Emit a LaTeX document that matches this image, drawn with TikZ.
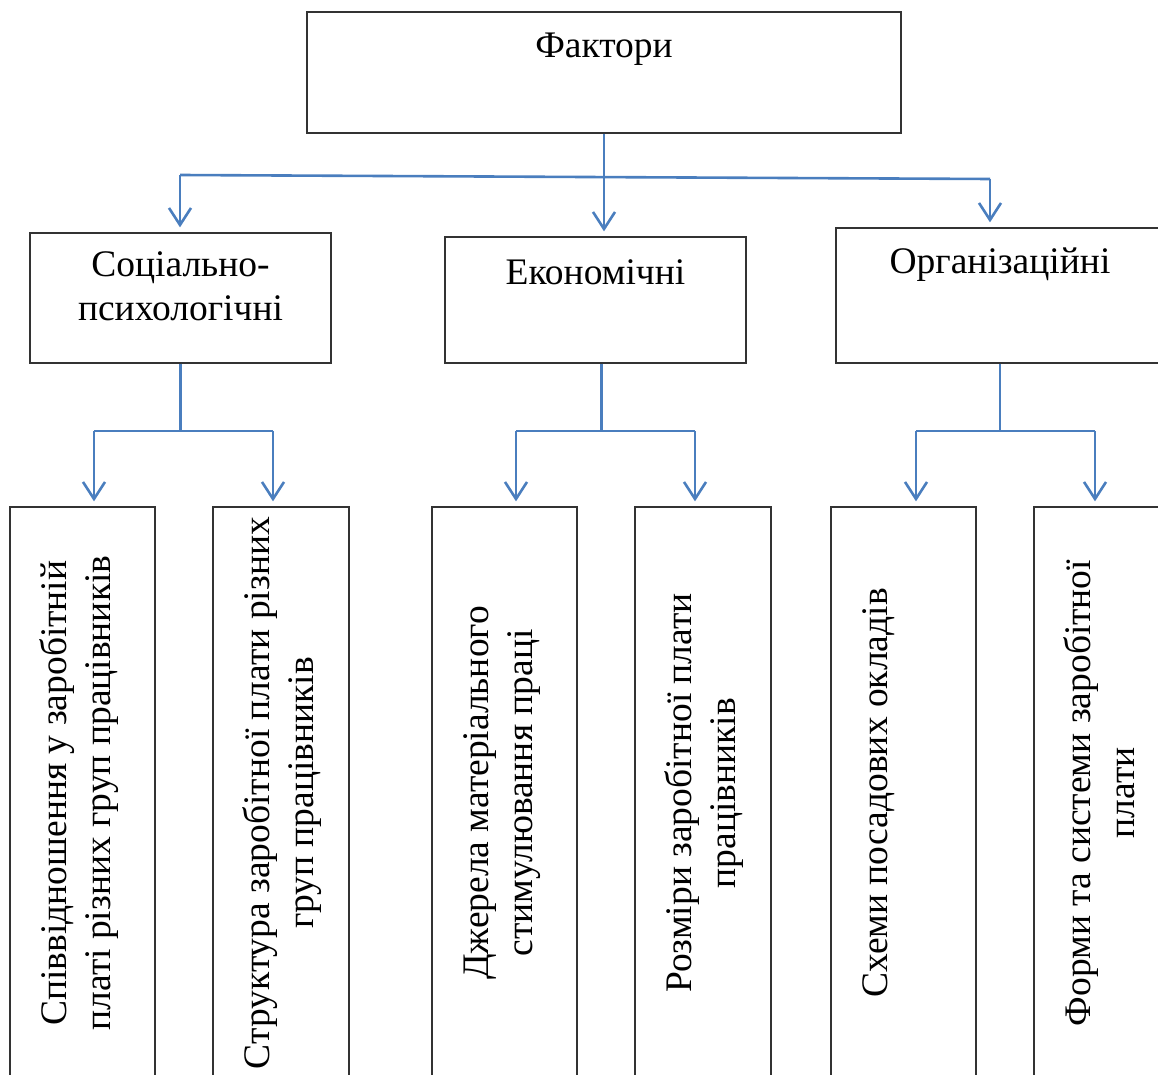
\documentclass[tikz,border=0pt]{standalone}
\usepackage{fontspec}
\setmainfont{Liberation Serif}
\usetikzlibrary{arrows.meta}
\definecolor{lineblue}{RGB}{74,126,190}
\newcommand{\boxtext}[4]{\parbox[c][#2][t]{#1}{\centering\rule{0pt}{#3}#4}}

\begin{document}
\begin{tikzpicture}[x=1pt,y=-1pt,
    box/.style={draw=black!80,line width=1.3pt,inner sep=0pt,font=\fontsize{37.5}{44}\selectfont},
    vbox/.style={box,rotate=90},
    link/.style={draw=lineblue,line width=2.6pt},
    arr/.style={link,-{Straight Barb[length=17pt,width=22pt]},shorten >=5pt}]
  \useasboundingbox (0,0) rectangle (1158,1075);
  \clip (0,0) rectangle (1158,1075);
  % top level
  \node[box] (fak) at (604,72.5) {\boxtext{594pt}{121pt}{46pt}{Фактори}};
  \node[box] (soc) at (180.5,298) {\boxtext{301pt}{130pt}{43pt}{Соціально-\\психологічні}};
  \node[box] (econ) at (595.5,300) {\boxtext{301pt}{126pt}{47pt}{Економічні}};
  \node[box] (org) at (1000,295.5) {\boxtext{328pt}{135pt}{45pt}{Організаційні}};
  % bottom boxes, text turned
  \node[vbox] (b1) at (82.5,793) {\boxtext{572pt}{145pt}{56pt}{Співвідношення у заробітній\\платі різних груп працівників}};
  \node[vbox] (b2) at (281,793) {\boxtext{572pt}{136pt}{56pt}{Структура заробітної плати різних\\груп працівників}};
  \node[vbox] (b3) at (504.5,793) {\boxtext{572pt}{145pt}{56pt}{Джерела матеріального\\стимулювання праці}};
  \node[vbox] (b4) at (703,793) {\boxtext{572pt}{136pt}{56pt}{Розміри заробітної плати\\працівників}};
  \node[vbox] (b5) at (903.5,793) {\boxtext{572pt}{145pt}{56pt}{Схеми посадових окладів}};
  \node[vbox] (b6) at (1102,793) {\boxtext{572pt}{136pt}{56pt}{Форми та системи заробітної\\плати}};
  % first split
  \coordinate (hl) at (180,175);
  \coordinate (hr) at (990,179);
  \draw[link] (hl) -- (hr);
  \draw[arr] (fak.south) -- (fak.south |- econ.north);
  \draw[arr] (hl) -- (hl |- soc.north);
  \draw[arr] (hr) -- (hr |- org.north);
  % second split
  \coordinate (s1) at (94,431);
  \coordinate (s2) at (273,431);
  \coordinate (s3) at (516,431);
  \coordinate (s4) at (695,431);
  \coordinate (s5) at (916,431);
  \coordinate (s6) at (1095,431);
  \draw[link] (soc.south) -- (soc.south |- s1);
  \draw[link] ([xshift=6pt]econ.south) -- ([xshift=6pt]econ.south |- s3);
  \draw[link] (org.south) -- (org.south |- s5);
  \draw[link] (s1) -- (s2);
  \draw[link] (s3) -- (s4);
  \draw[link] (s5) -- (s6);
  \draw[arr] (s1) -- (s1 |- b1.east);
  \draw[arr] (s2) -- (s2 |- b2.east);
  \draw[arr] (s3) -- (s3 |- b3.east);
  \draw[arr] (s4) -- (s4 |- b4.east);
  \draw[arr] (s5) -- (s5 |- b5.east);
  \draw[arr] (s6) -- (s6 |- b6.east);
\end{tikzpicture}
\end{document}
